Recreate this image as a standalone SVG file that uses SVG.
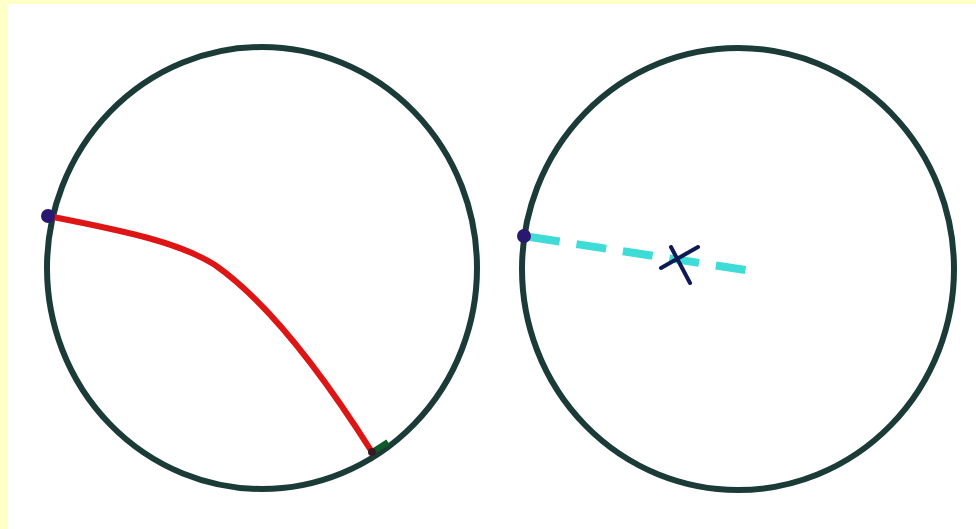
<svg xmlns="http://www.w3.org/2000/svg" width="976" height="529" viewBox="0 0 976 529">
<style>
.ring{fill:none;stroke:#1b3b38;stroke-width:6}
.pt{fill:#2a1870}
</style>
<rect x="0" y="0" width="976" height="529" fill="#ffffc8"/>
<rect x="8" y="4" width="968" height="525" fill="#ffffff"/>
<g id="left-circle">
<ellipse class="ring" cx="262" cy="268" rx="215" ry="221"/>
<path d="M372,452 A215,221 0 0 0 388,442" fill="none" stroke="#0f5a2a" stroke-width="6"/>
</g>
<g id="right-circle">
<ellipse class="ring" cx="738" cy="269" rx="216" ry="221"/>
</g>
<g id="connectors">
<path d="M48,216 C130,232 180,243 215,265 C265,300 320,370 372,452" fill="none" stroke="#dd1515" stroke-width="6" stroke-linecap="round"/>
<line x1="530" y1="237" x2="752" y2="271" stroke="#3ddcd6" stroke-width="8" stroke-dasharray="30,17"/>
</g>
<g id="points">
<circle class="pt" cx="48" cy="216" r="7"/>
<circle cx="372" cy="452" r="4" fill="#3a1a22"/>
<circle class="pt" cx="524" cy="236" r="7"/>
<g id="x-mark" stroke="#0d1a55" stroke-width="4" stroke-linecap="round">
<line x1="671" y1="247" x2="690" y2="283"/>
<line x1="661" y1="268" x2="698" y2="247"/>
</g>
</g>
</svg>
